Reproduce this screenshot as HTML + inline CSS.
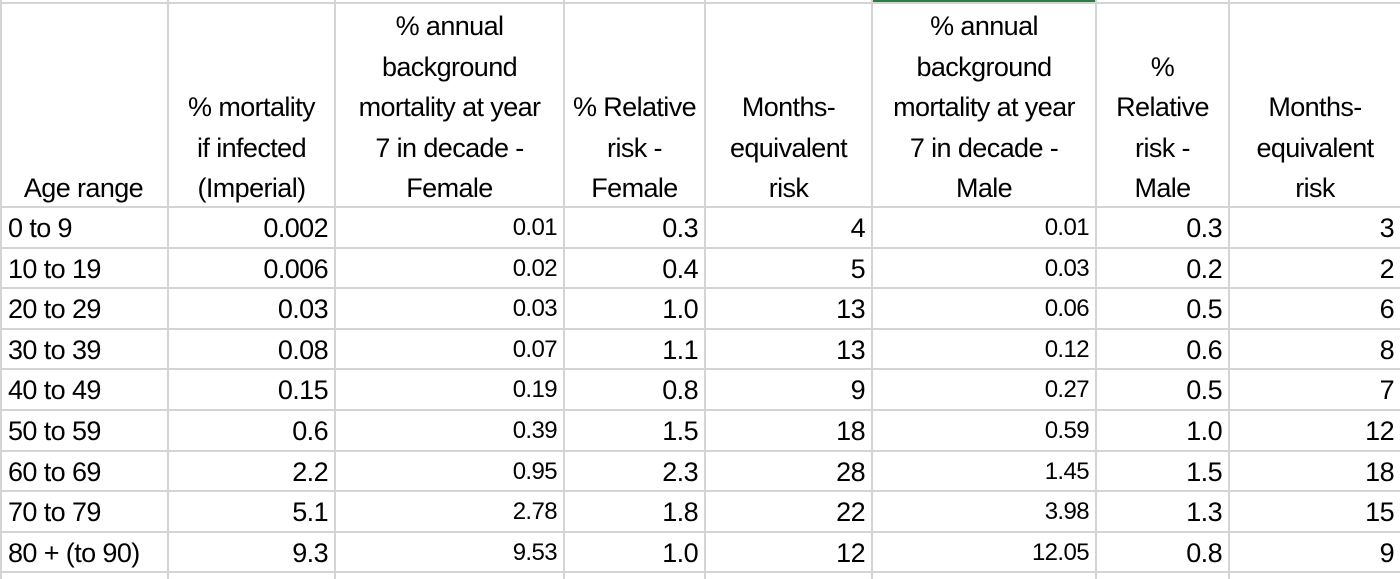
<!DOCTYPE html>
<html><head><style>
body{margin:0;width:1400px;height:579px;background:#fff;overflow:hidden;font-family:"Liberation Sans",sans-serif;color:#000;position:relative}
.v{position:absolute;top:0;bottom:0;width:2px;background:#d4d4d4}
.h{position:absolute;left:0;right:0;height:2px;background:#d4d4d4}
.hc{position:absolute;top:3px;height:206px;display:flex;flex-direction:column;justify-content:flex-end;align-items:center;text-align:center;font-size:27px;line-height:40.6px;letter-spacing:-0.6px;white-space:nowrap}
.c{position:absolute;height:40.6px;line-height:42px;font-size:27px;text-align:right;padding-right:6px;box-sizing:border-box;letter-spacing:-0.6px;white-space:nowrap}
.s{font-size:24px}
.l{text-align:left;padding-left:6px}
</style></head><body>
<div style="position:absolute;left:872px;width:224px;top:0;height:3px;background:#2e7d45"></div>
<div class="h" style="top:2px"></div>
<div id="grid"></div>
<div class="v" style="left:0"></div><div class="v" style="left:167px"></div><div class="v" style="left:334px"></div><div class="v" style="left:563px"></div><div class="v" style="left:704px"></div><div class="v" style="left:871px"></div><div class="v" style="left:1095px"></div><div class="v" style="left:1228px"></div>
<div class="hc" style="left:0;width:167px">Age range</div>
<div class="hc" style="left:169px;width:165px"><div>% mortality</div><div>if infected</div><div>(Imperial)</div></div>
<div class="hc" style="left:336px;width:227px"><div>% annual</div><div>background</div><div>mortality at year</div><div>7 in decade -</div><div>Female</div></div>
<div class="hc" style="left:565px;width:139px"><div>% Relative</div><div>risk -</div><div>Female</div></div>
<div class="hc" style="left:706px;width:165px"><div>Months-</div><div>equivalent</div><div>risk</div></div>
<div class="hc" style="left:873px;width:222px"><div>% annual</div><div>background</div><div>mortality at year</div><div>7 in decade -</div><div>Male</div></div>
<div class="hc" style="left:1097px;width:131px"><div>%</div><div>Relative</div><div>risk -</div><div>Male</div></div>
<div class="hc" style="left:1230px;width:170px"><div>Months-</div><div>equivalent</div><div>risk</div></div>
<script>
var rows=[["0 to 9","0.002","0.01","0.3","4","0.01","0.3","3"],["10 to 19","0.006","0.02","0.4","5","0.03","0.2","2"],["20 to 29","0.03","0.03","1.0","13","0.06","0.5","6"],["30 to 39","0.08","0.07","1.1","13","0.12","0.6","8"],["40 to 49","0.15","0.19","0.8","9","0.27","0.5","7"],["50 to 59","0.6","0.39","1.5","18","0.59","1.0","12"],["60 to 69","2.2","0.95","2.3","28","1.45","1.5","18"],["70 to 79","5.1","2.78","1.8","22","3.98","1.3","15"],["80 + (to 90)","9.3","9.53","1.0","12","12.05","0.8","9"]];
var xs=[0,167,334,563,704,871,1095,1228,1400];var h="";
for(var r=0;r<=9;r++){h+='<div class="h" style="top:'+(206+r*40.6)+'px"></div>';}
rows.forEach(function(row,r){var y=207+r*40.6;row.forEach(function(t,c){var cls="c"+(c==0?" l":"")+((c==2||c==5)?" s":"");h+='<div class="'+cls+'" style="top:'+y+'px;left:'+(xs[c]+2)+'px;width:'+(xs[c+1]-xs[c]-2)+'px">'+t+'</div>';});});
document.getElementById("grid").innerHTML=h;
</script>
</body></html>
